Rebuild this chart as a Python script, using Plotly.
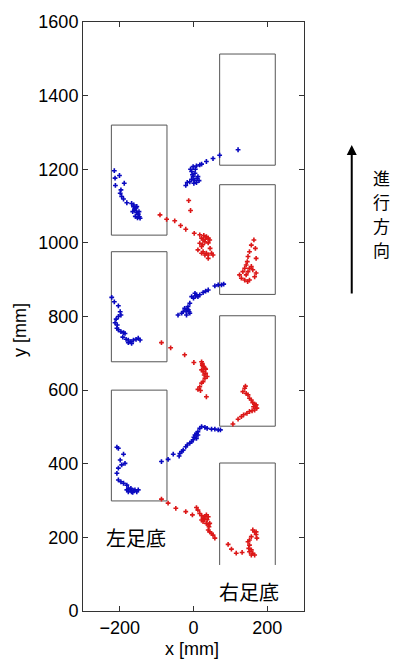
import plotly.graph_objects as go

# Left foot (blue) points [mm]
blue_x = [-215, -213, -201, -212, -188, -197, -199, -195, -190, -181, -168, -163, -159, -154, -147, -145, -165, -154, -160, -150, -158, -152, -148, -162, -156,
          -21, -17, -10, -5, 1, 8, 15, 12, -1, 4, -5, -8, -1, 8, 17, 22, 35, 53, 71, 121, 3, 10, -3, 5,
          -222, -215, -204, -199, -197, -204, -210, -213, -207, -208, -204, -197, -190, -186, -192, -183, -177, -170, -163, -156, -150, -145, -168, -177,
          -42, -32, -28, -24, -17, -12, -10, -19, -15, -10, -5, 4, 8, 12, 17, 26, 33, 40, 58, 67, 76, 82, -20, -14, 0, 6,
          -208, -204, -190, -199, -186, -195, -204, -208, -204, -197, -190, -181, -177, -172, -168, -163, -159, -150, -154, -177, -181, -170, -165,
          -87, -69, -55, -39, -37, -32, -28, -21, -17, -10, -5, -1, 1, 4, 8, 12, 17, 22, 31, 37, 49, 58, 67, 73, 8, 12]
blue_y = [1196, 1176, 1183, 1156, 1162, 1144, 1135, 1126, 1119, 1109, 1107, 1098, 1089, 1082, 1071, 1067, 1085, 1099, 1092, 1078, 1072, 1068, 1085, 1103, 1095,
          1156, 1164, 1166, 1173, 1162, 1164, 1169, 1180, 1180, 1189, 1194, 1200, 1207, 1209, 1212, 1214, 1221, 1229, 1238, 1253, 1170, 1175, 1185, 1200,
          852, 840, 829, 813, 804, 800, 793, 783, 777, 768, 764, 759, 756, 754, 744, 738, 736, 732, 736, 738, 741, 736, 727, 729,
          804, 809, 813, 822, 820, 813, 809, 804, 827, 836, 854, 863, 859, 854, 859, 865, 869, 872, 883, 886, 886, 888, 815, 818, 850, 856,
          445, 442, 426, 410, 401, 397, 388, 374, 356, 351, 347, 342, 333, 329, 324, 327, 329, 329, 324, 324, 329, 333, 322,
          406, 412, 426, 421, 428, 433, 437, 446, 451, 456, 460, 465, 472, 478, 483, 487, 496, 501, 499, 496, 494, 494, 492, 492, 469, 478]

# Right foot (red) points [mm]
red_x = [-91, -73, -51, -35, -21, 2, 17, 22, 26, 35, 40, 44, 31, 17, 22, 12, 26, 35, 40, 49, 53, 40, 31, 22, 28, 32, 40, 25, 45, -13, -8,
         164, 157, 168, 152, 148, 170, 146, 143, 139, 152, 161, 170, 166, 152, 139, 130, 125, 134, 148, 157, 143, 147,
         -87, -62, -24, 1, 22, 24, 26, 31, 22, 26, 33, 37, 31, 26, 22, 17, 12, 19, 35, 28, 33, 24, 29,
         141, 139, 134, 143, 148, 152, 157, 161, 166, 168, 172, 166, 159, 152, 145, 136, 130, 121, 107, 170, 163,
         -87, -69, -48, -21, -3, 8, 12, 17, 22, 26, 31, 35, 40, 22, 26, 35, 40, 44, 42, 40, 44, 49, 53, 58, 94, 103, 116, 132, 30, 37,
         161, 166, 170, 172, 157, 152, 148, 152, 150, 157, 152, 161, 166, 157, 170]
red_y = [1076, 1064, 1060, 1047, 1037, 1026, 1022, 1013, 1008, 1017, 1013, 1008, 1003, 999, 990, 981, 976, 972, 967, 972, 967, 958, 967, 972, 1020, 1010, 1000, 995, 985, 1115, 1088,
         1008, 994, 985, 976, 963, 958, 949, 940, 931, 931, 927, 918, 908, 899, 899, 904, 913, 922, 922, 936, 913, 895,
         729, 715, 696, 675, 677, 668, 664, 659, 655, 650, 646, 637, 632, 623, 619, 609, 602, 599, 582, 664, 657, 672, 641,
         611, 605, 596, 591, 587, 578, 573, 566, 562, 557, 551, 546, 544, 542, 537, 533, 528, 521, 508, 560, 555,
         304, 293, 279, 270, 261, 281, 274, 265, 259, 252, 256, 261, 256, 247, 243, 238, 234, 238, 229, 220, 215, 211, 206, 198, 181, 168, 157, 159, 250, 248,
         220, 215, 208, 198, 202, 193, 188, 179, 170, 166, 161, 157, 152, 152, 215]

# Footprint rectangles [mm]
rect_x0 = [-223, -223, -223, 71, 71, 71, 71]
rect_x1 = [-72, -72, -72, 222, 222, 222, 222]
rect_y0 = [1021, 677, 299, 1211, 860, 502, 125]
rect_y1 = [1320, 976, 600, 1513, 1158, 802, 402]
rect_open_bottom = [False, False, False, False, False, False, True]

direction_chars = ["進", "行", "方", "向"]

FONT = "Arial, Liberation Sans, Noto Sans CJK JP, sans-serif"
CJK = "Noto Sans CJK JP, sans-serif"

fig = go.Figure()
fig.add_trace(go.Scatter(x=blue_x, y=blue_y, mode="markers",
                         marker=dict(symbol="cross", size=4, color="#0a0ac0"), showlegend=False))
fig.add_trace(go.Scatter(x=red_x, y=red_y, mode="markers",
                         marker=dict(symbol="cross", size=4, color="#dc1818"), showlegend=False))

shapes = []
for x0, x1, y0, y1, ob in zip(rect_x0, rect_x1, rect_y0, rect_y1, rect_open_bottom):
    if ob:
        path = f"M {x0},{y0} L {x0},{y1} L {x1},{y1} L {x1},{y0}"
    else:
        path = f"M {x0},{y0} L {x0},{y1} L {x1},{y1} L {x1},{y0} Z"
    shapes.append(dict(type="path", path=path, xref="x", yref="y",
                       line=dict(color="#555555", width=1), layer="below"))

C = dict(xanchor="center", yanchor="middle", showarrow=False)
annotations = [
    dict(text="左足底", x=-156, y=200, xref="x", yref="y",
         font=dict(family=CJK, size=20, color="black"), **C),
    dict(text="右足底", x=150, y=52, xref="x", yref="y",
         font=dict(family=CJK, size=20, color="black"), **C),
    dict(text="", x=1.216, y=0.791, xref="paper", yref="paper", showarrow=True,
         ax=0, ay=150, arrowhead=2, arrowsize=1, arrowwidth=2, arrowcolor="black"),
    dict(text="x [mm]", x=0.493, y=-0.0645, xref="paper", yref="paper",
         font=dict(family=FONT, size=18, color="black"), **C),
    dict(text="y [mm]", x=-0.285, y=0.477, xref="paper", yref="paper",
         textangle=-90, font=dict(family=FONT, size=18, color="black"), **C),
]
for i, ch in enumerate(direction_chars):
    annotations.append(dict(text=ch, x=1.352, y=(611 - (177.3 + 24.0 * i)) / 589,
                            xref="paper", yref="paper", borderpad=0,
                            font=dict(family=CJK, size=17, color="black"), **C))

axis_common = dict(showline=True, linecolor="#333333", linewidth=1, mirror="ticks",
                   ticks="inside", ticklen=5, tickcolor="#333333", showgrid=False,
                   zeroline=False, automargin=False,
                   tickfont=dict(family=FONT, size=18, color="black"))

fig.update_layout(
    width=395, height=660,
    margin=dict(l=83, r=91, t=22, b=49),
    paper_bgcolor="white", plot_bgcolor="white",
    xaxis=dict(range=[-300, 300], tickvals=[-200, 0, 200], **axis_common),
    yaxis=dict(range=[0, 1600], tickvals=[0, 200, 400, 600, 800, 1000, 1200, 1400, 1600],
               **axis_common),
    shapes=shapes, annotations=annotations,
)
fig.write_html("out.html", config={"displayModeBar": False},
               post_script="document.body.style.margin='0';document.body.style.overflow='hidden';")
